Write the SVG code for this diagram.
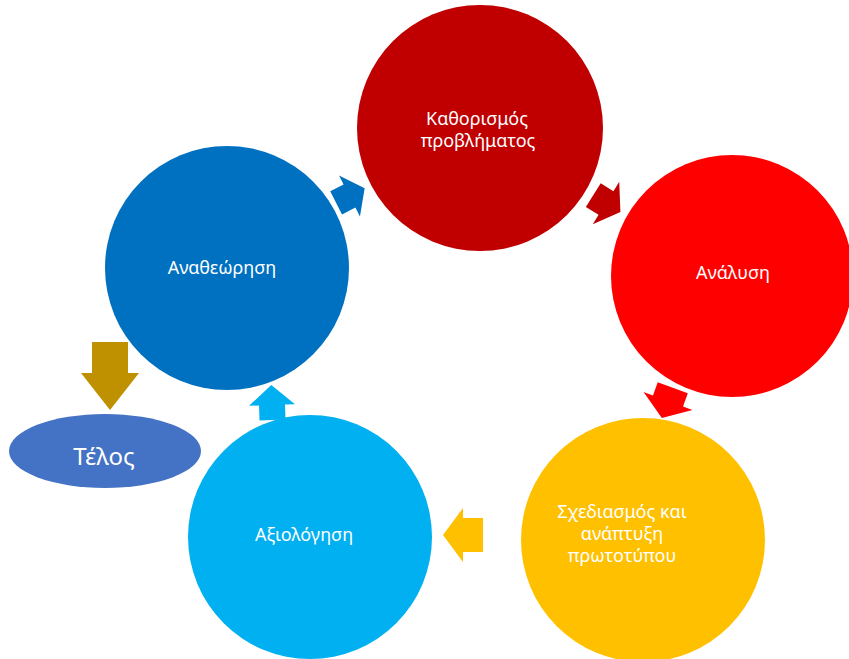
<svg xmlns="http://www.w3.org/2000/svg" width="849" height="659" viewBox="0 0 849 659">
<style>
.t{font-family:"Noto Sans","Open Sans","DejaVu Sans",sans-serif;font-size:18px;fill:#ffffff;text-anchor:middle}
.big{font-size:24px}
</style>
<rect width="849" height="659" fill="#ffffff"/>
<g id="nodes">
<g id="n-kathorismos"><circle cx="480" cy="128" r="123" fill="#C00000"/><text class="t" x="477" y="125">Καθορισμός</text><text class="t" x="478" y="147">προβλήματος</text></g>
<g id="n-analysi"><circle cx="732" cy="276" r="121" fill="#FF0000"/><text class="t" x="733" y="279">Ανάλυση</text></g>
<g id="n-sxediasmos"><circle cx="643" cy="540" r="122" fill="#FFC000"/><text class="t" x="622" y="518">Σχεδιασμός και</text><text class="t" x="622" y="540">ανάπτυξη</text><text class="t" x="622" y="562">πρωτοτύπου</text></g>
<g id="n-axiologisi"><circle cx="310" cy="537" r="122" fill="#00B0F0"/><text class="t" x="304" y="541">Αξιολόγηση</text></g>
<g id="n-anatheorisi"><circle cx="227" cy="268" r="122" fill="#0070C0"/><text class="t" x="222" y="274">Αναθεώρηση</text></g>
<g id="n-telos"><ellipse cx="105" cy="451" rx="96" ry="37" fill="#4472C4"/><text class="t big" x="104" y="465">Τέλος</text></g>
</g>
<g id="connectors">
<polygon fill="#0070C0" transform="translate(349.5 196) rotate(-27)" points="-15,-13 0,-13 0,-23 17,0 0,23 0,13 -15,13"/>
<polygon fill="#C00000" transform="translate(606 203) rotate(32)" points="-15,-14 0,-14 0,-25 17,0 0,25 0,14 -15,14"/>
<polygon fill="#FF0000" transform="translate(668 401) rotate(110)" points="-14,-16 0,-16 0,-26 18,0 0,26 0,16 -14,16"/>
<polygon fill="#FFC000" transform="translate(463 535) rotate(180)" points="-20,-17 0,-17 0,-27 20,0 0,27 0,17 -20,17"/>
<polygon fill="#00B0F0" transform="translate(272 405) rotate(-92)" points="-15,-13 0,-13 0,-23 20,0 0,23 0,13 -15,13"/>
<polygon fill="#BF9000" transform="translate(110 373) rotate(90)" points="-31,-18 0,-18 0,-29 37,0 0,29 0,18 -31,18"/>
</g>
</svg>
